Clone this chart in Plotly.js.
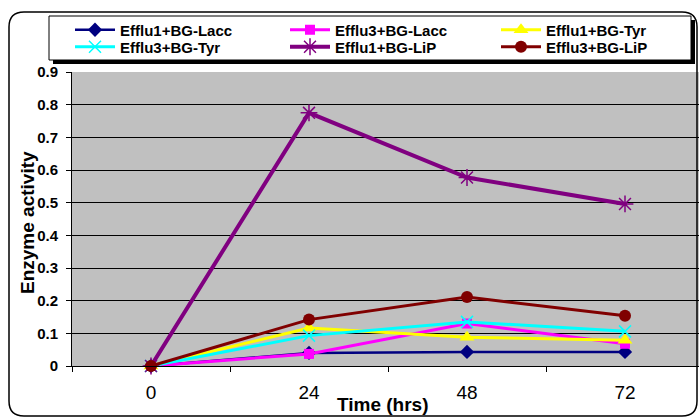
<!DOCTYPE html>
<html>
<head>
<meta charset="utf-8">
<script src="https://cdn.plot.ly/plotly-3.0.1.min.js"></script>
<style>
  html, body { margin: 0; padding: 0; background: #ffffff; }
  #chart { width: 699px; height: 418px; }
</style>
</head>
<body>
<div id="chart"></div>
<script>
// Sampling times (hours)
const time = ['0', '24', '48', '72'];

// Enzyme activity per treatment
const efflu1Lacc = [0, 0.040, 0.043, 0.043];
const efflu3Lacc = [0, 0.037, 0.130, 0.068];
const efflu1Tyr  = [0, 0.116, 0.088, 0.079];
const efflu3Tyr  = [0, 0.093, 0.135, 0.106];
const efflu1LiP  = [0, 0.775, 0.577, 0.496];
const efflu3LiP  = [0, 0.142, 0.211, 0.154];

const seriesNames = ['Efflu1+BG-Lacc', 'Efflu3+BG-Lacc', 'Efflu1+BG-Tyr',
                     'Efflu3+BG-Tyr', 'Efflu1+BG-LiP', 'Efflu3+BG-LiP'];

const W = 699, H = 418;
const M = { l: 72, r: 0, t: 72, b: 52 };
const PW = W - M.l - M.r, PH = H - M.t - M.b;
// pixel -> paper coordinates
const px = x => (x - M.l) / PW;
const py = y => (H - M.b - y) / PH;

function series(name, y, color, lineWidth, symbol, size, legendId, markerLine) {
  return {
    type: 'scatter', mode: 'lines+markers', name: name, legend: legendId,
    x: time, y: y, cliponaxis: false,
    line: { color: color, width: lineWidth },
    marker: { color: color, symbol: symbol, size: size,
              line: markerLine || { width: 0 } }
  };
}

const traces = [
  series(seriesNames[0], efflu1Lacc, '#000080', 2.5, 'diamond', 11, 'legend'),
  series(seriesNames[1], efflu3Lacc, '#FF00FF', 3, 'square', 10, 'legend2'),
  series(seriesNames[2], efflu1Tyr,  '#FFFF00', 3, 'triangle-up', 13, 'legend3'),
  series(seriesNames[3], efflu3Tyr,  '#00FFFF', 3, 'x-thin-open', 12, 'legend4', { color: '#00FFFF', width: 1.5 }),
  series(seriesNames[4], efflu1LiP,  '#800080', 4, 'asterisk-open', 14, 'legend5', { color: '#800080', width: 1.5 }),
  series(seriesNames[5], efflu3LiP,  '#800000', 3, 'circle', 12, 'legend6')
];

// rounded outer frame of the chart
function roundedRect(x0, y0, x1, y1, r) {
  const P = (x, y) => px(x) + ',' + py(y);
  return 'M' + P(x0 + r, y0) + ' L' + P(x1 - r, y0) + ' Q' + P(x1, y0) + ' ' + P(x1, y0 + r) +
         ' L' + P(x1, y1 - r) + ' Q' + P(x1, y1) + ' ' + P(x1 - r, y1) +
         ' L' + P(x0 + r, y1) + ' Q' + P(x0, y1) + ' ' + P(x0, y1 - r) +
         ' L' + P(x0, y0 + r) + ' Q' + P(x0, y0) + ' ' + P(x0 + r, y0) + ' Z';
}

const font = 'Liberation Sans, Arial, sans-serif';
const legendFont = { family: font, size: 15, color: '#000000', weight: 'bold' };
const titleFont = { family: font, size: 19, weight: 'bold', color: '#000000' };

// one legend entry per series, laid out as a 3 x 2 grid
function legendCell(xPix, yPix) {
  return {
    x: px(xPix), y: py(yPix), xanchor: 'left', yanchor: 'middle',
    bgcolor: 'rgba(0,0,0,0)', borderwidth: 0,
    font: legendFont,
    itemwidth: 40
  };
}
const colX = [70, 285, 496];
const rowY = [30, 47];

const layout = {
  width: W, height: H,
  margin: M,
  paper_bgcolor: '#ffffff',
  plot_bgcolor: '#C0C0C0',
  font: { family: font, color: '#000000' },
  showlegend: true,
  legend:  legendCell(colX[0], rowY[0]),
  legend2: legendCell(colX[1], rowY[0]),
  legend3: legendCell(colX[2], rowY[0]),
  legend4: legendCell(colX[0], rowY[1]),
  legend5: legendCell(colX[1], rowY[1]),
  legend6: legendCell(colX[2], rowY[1]),
  xaxis: {
    type: 'category',
    range: [-0.5, -0.5 + PW / 158],
    showgrid: false, zeroline: false,
    showline: true, linecolor: '#000000', linewidth: 1,
    ticks: 'outside', tickson: 'boundaries', ticklen: 5, tickcolor: '#000000',
    ticklabelstandoff: 9,
    tickfont: { family: font, size: 19, color: '#000000' },
    fixedrange: true
  },
  yaxis: {
    range: [0, 0.9], dtick: 0.1, tick0: 0,
    showgrid: true, gridcolor: '#000000', gridwidth: 1,
    zeroline: false,
    showline: true, linecolor: '#000000', linewidth: 1,
    ticks: 'outside', ticklen: 5, tickcolor: '#000000',
    ticklabelstandoff: 5,
    tickfont: { family: font, size: 15, color: '#000000', weight: 'bold' },
    fixedrange: true
  },
  annotations: [
    { text: 'Time (hrs)', xref: 'paper', yref: 'paper', x: px(383), y: py(404),
      xanchor: 'center', yanchor: 'middle', showarrow: false, font: titleFont },
    { text: 'Enzyme activity', xref: 'paper', yref: 'paper', x: px(27), y: py(223),
      xanchor: 'center', yanchor: 'middle', textangle: -90, showarrow: false, font: titleFont }
  ],
  shapes: [
    { type: 'path', xref: 'paper', yref: 'paper', layer: 'below',
      path: roundedRect(9, 12, 697, 416, 15),
      line: { color: '#000000', width: 1.5 }, fillcolor: 'rgba(0,0,0,0)' },
    // legend frame with its drop shadow
    { type: 'rect', xref: 'paper', yref: 'paper', layer: 'above',
      x0: px(53), x1: px(695), y0: py(20), y1: py(64),
      line: { width: 0 }, fillcolor: '#000000' },
    { type: 'rect', xref: 'paper', yref: 'paper', layer: 'above',
      x0: px(49), x1: px(691), y0: py(16), y1: py(60),
      line: { color: '#000000', width: 1 }, fillcolor: '#ffffff' }
  ]
};

Plotly.newPlot('chart', traces, layout, { displayModeBar: false, staticPlot: true });
</script>
</body>
</html>
